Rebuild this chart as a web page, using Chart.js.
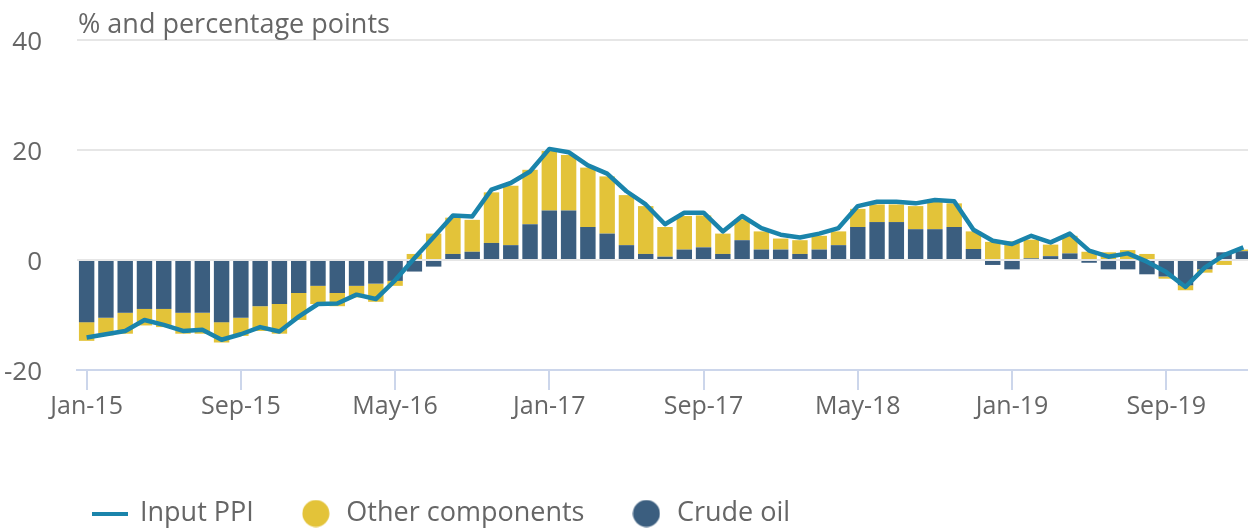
<!DOCTYPE html>
<html>
<head>
<meta charset="utf-8">
<title>Input PPI contributions</title>
<script src="https://cdn.jsdelivr.net/npm/chart.js@4/dist/chart.umd.min.js"></script>
<style>
  html, body { margin: 0; padding: 0; background: #fff; overflow: hidden; }
  #wrap { width: 1253px; height: 528px; position: relative; }
</style>
</head>
<body>
<div id="wrap"><canvas id="ppiChart"></canvas></div>
<script>
// --- Data
const months = [
  'Jan-15','Feb-15','Mar-15','Apr-15','May-15','Jun-15','Jul-15','Aug-15','Sep-15','Oct-15','Nov-15','Dec-15',
  'Jan-16','Feb-16','Mar-16','Apr-16','May-16','Jun-16','Jul-16','Aug-16','Sep-16','Oct-16','Nov-16','Dec-16',
  'Jan-17','Feb-17','Mar-17','Apr-17','May-17','Jun-17','Jul-17','Aug-17','Sep-17','Oct-17','Nov-17','Dec-17',
  'Jan-18','Feb-18','Mar-18','Apr-18','May-18','Jun-18','Jul-18','Aug-18','Sep-18','Oct-18','Nov-18','Dec-18',
  'Jan-19','Feb-19','Mar-19','Apr-19','May-19','Jun-19','Jul-19','Aug-19','Sep-19','Oct-19','Nov-19','Dec-19',
  'Jan-20'
];

const crudeOil = [
  -11.3, -10.5, -9.6, -8.9, -8.9, -9.6, -9.6, -11.3, -10.5, -8.4, -8.0, -6.0,
  -4.7, -6.0, -4.7, -4.3, -3.8, -2.1, -1.2, 1.1, 1.5, 3.1, 2.7, 6.5,
  9.0, 9.0, 6.0, 4.8, 2.7, 1.1, 0.6, 1.9, 2.3, 1.1, 3.6, 1.9,
  1.9, 1.1, 1.9, 2.7, 6.0, 6.9, 6.9, 5.6, 5.6, 6.0, 2.0, -0.9,
  -1.7, 0.3, 0.7, 1.2, -0.5, -1.7, -1.7, -2.6, -3.0, -4.6, -1.7, 1.4,
  1.6
];

const otherComponents = [
  -3.4, -3.2, -3.8, -3.0, -3.3, -3.8, -3.8, -3.7, -3.3, -4.5, -5.4, -4.9,
  -3.3, -2.4, -2.1, -3.3, -0.9, 1.1, 4.8, 6.6, 5.8, 9.2, 10.8, 9.9,
  10.8, 10.1, 10.8, 10.4, 9.1, 8.7, 5.4, 6.1, 5.8, 3.7, 3.8, 3.3,
  2.0, 2.5, 2.5, 2.5, 3.3, 3.2, 3.2, 4.2, 5.0, 4.3, 3.2, 3.3,
  3.4, 3.4, 2.1, 3.2, 1.5, 1.4, 1.8, 1.1, -0.4, -0.9, -0.6, -0.9,
  0.3
];

const inputPPI = [
  -14.1, -13.5, -12.9, -10.9, -11.8, -12.9, -12.7, -14.5, -13.5, -12.2, -13.0, -10.3,
  -8.0, -7.9, -6.3, -7.1, -3.7, 0.3, 4.2, 8.1, 7.9, 12.8, 14.0, 16.1,
  20.2, 19.6, 17.2, 15.7, 12.5, 10.1, 6.5, 8.6, 8.6, 5.2, 8.0, 5.8,
  4.6, 4.1, 4.8, 5.8, 9.8, 10.6, 10.6, 10.3, 10.9, 10.7, 5.5, 3.5,
  2.9, 4.4, 3.2, 4.8, 1.7, 0.6, 1.2, -0.3, -2.2, -4.9, -1.4, 0.9,
  2.3
];

const shownTicks = ['Jan-15','Sep-15','May-16','Jan-17','Sep-17','May-18','Jan-19','Sep-19'];
const yMin = -20, yMax = 40, yStep = 20;
const unitTitle = '% and percentage points';

// --- Colours
const lineBlue = '#1a84ab';
const oilBlue = '#3b5e7f';
const otherYellow = '#e3c339';
const textGrey = '#666666';
const axisBlue = '#ccd6eb';
const gridGrey = '#e6e6e6';

Chart.defaults.font.family = "'Open Sans', sans-serif";
Chart.defaults.color = textGrey;

// legend order: line, other, crude (stack order keeps crude nearest zero)
const legendRank = [0, 2, 1];

// small legend symbols (a short thick line, and filled dots)
function legendSymbol(kind, color) {
  const cv = document.createElement('canvas');
  const g = cv.getContext('2d');
  if (kind === 'line') {
    cv.width = 36; cv.height = 4;
    g.fillStyle = color;
    g.fillRect(0, 0, 36, 4);
  } else {
    cv.width = 28; cv.height = 28;
    g.fillStyle = color;
    g.beginPath();
    g.arc(14, 14, 13.5, 0, Math.PI * 2);
    g.fill();
  }
  return cv;
}

// unit title above the plot + legend nudge
const unitTitlePlugin = {
  id: 'unitTitle',
  afterLayout(chart) {
    // legend sits a bit lower and further right than chart.js puts it
    const lg = chart.legend;
    if (lg) {
      lg.left = 47.5;
      lg.top += 9;
      lg.bottom += 9;
    }
  },
  afterDraw(chart) {
    const c = chart.ctx;
    c.save();
    c.font = "27px 'Open Sans', sans-serif";
    c.fillStyle = textGrey;
    c.textAlign = 'left';
    c.textBaseline = 'alphabetic';
    c.fillText(unitTitle, chart.chartArea.left + 1, 33);
    c.restore();
  }
};

const ctx = document.getElementById('ppiChart').getContext('2d');
new Chart(ctx, {
  data: {
    labels: months,
    datasets: [
      {
        type: 'line',
        label: 'Input PPI',
        data: inputPPI,
        borderColor: lineBlue,
        backgroundColor: lineBlue,
        borderWidth: 4.5,
        borderJoinStyle: 'round',
        pointRadius: 0,
        pointHoverRadius: 0,
        pointStyle: legendSymbol('line', lineBlue),
        tension: 0,
        stack: 'ppi',
        order: 0
      },
      {
        type: 'bar',
        label: 'Crude oil',
        data: crudeOil,
        backgroundColor: oilBlue,
        borderWidth: 0,
        pointStyle: legendSymbol('dot', oilBlue),
        stack: 'contrib',
        order: 1
      },
      {
        type: 'bar',
        label: 'Other components',
        data: otherComponents,
        backgroundColor: otherYellow,
        borderWidth: 0,
        pointStyle: legendSymbol('dot', otherYellow),
        stack: 'contrib',
        order: 2
      }
    ]
  },
  options: {
    responsive: true,
    maintainAspectRatio: false,
    animation: false,
    layout: { padding: { top: 40, left: 0, right: 0, bottom: 0 } },
    datasets: {
      bar: { barPercentage: 0.8, categoryPercentage: 1 }
    },
    plugins: {
      legend: {
        position: 'bottom',
        align: 'start',
        labels: {
          usePointStyle: true,
          pointStyleWidth: 34,
          boxHeight: 19,
          padding: 45,
          color: textGrey,
          font: { size: 27 },
          sort: (a, b) => legendRank[a.datasetIndex] - legendRank[b.datasetIndex]
        }
      },
      tooltip: { enabled: false }
    },
    scales: {
      x: {
        stacked: true,
        offset: true,
        afterFit(scale) { scale.height = 76; },
        grid: {
          offset: false,
          drawOnChartArea: false,
          drawTicks: true,
          tickLength: 20,
          color: axisBlue,
          lineWidth: 2
        },
        border: { display: true, color: axisBlue, width: 2 },
        ticks: {
          autoSkip: false,
          maxRotation: 0,
          padding: 2,
          color: textGrey,
          font: { size: 25 },
          callback(value, index) {
            const lab = months[index];
            return shownTicks.includes(lab) ? lab : null;
          }
        }
      },
      y: {
        stacked: true,
        min: yMin,
        max: yMax,
        afterFit(scale) { scale.width = 77; },
        grid: {
          drawTicks: true,
          tickLength: 35,
          tickColor: 'rgba(0,0,0,0)',
          lineWidth: 2,
          color: (c) => (c.tick && c.tick.value === yMin ? 'rgba(0,0,0,0)' : gridGrey)
        },
        border: { display: false },
        ticks: {
          stepSize: yStep,
          padding: 0,
          labelOffset: 3,
          color: textGrey,
          font: { size: 26 }
        }
      }
    }
  },
  plugins: [unitTitlePlugin]
});
</script>
</body>
</html>
